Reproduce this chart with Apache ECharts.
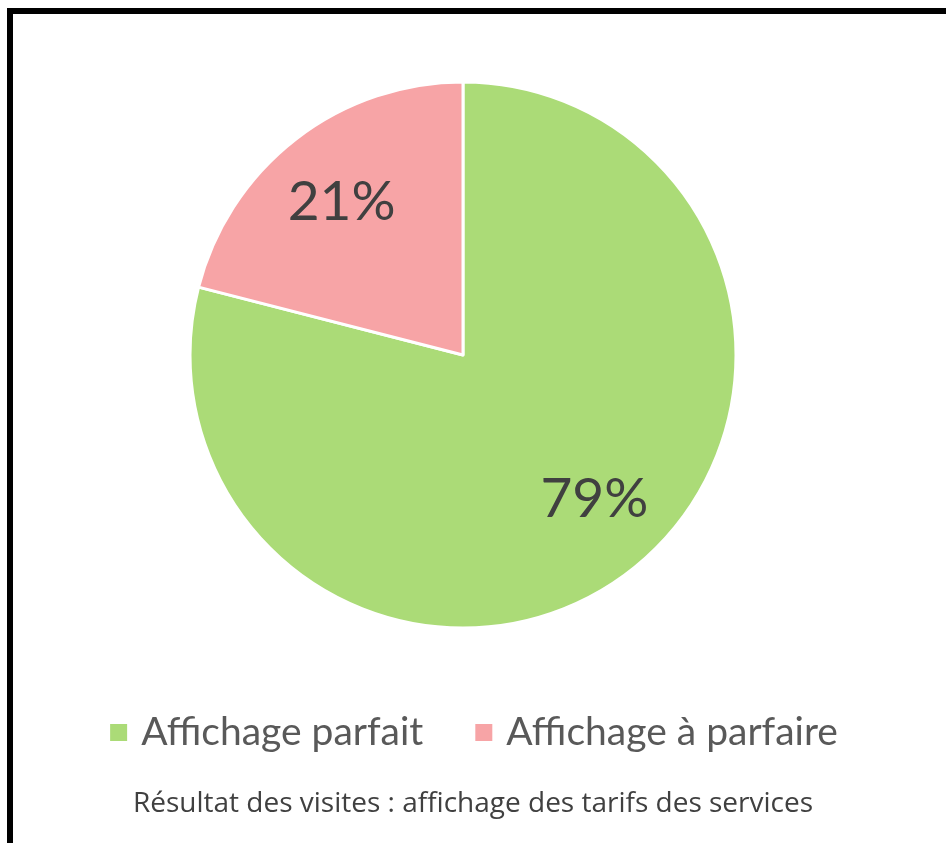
<!DOCTYPE html>
<html>
<head>
<meta charset="utf-8">
<script src="https://cdn.jsdelivr.net/npm/echarts@6/dist/echarts.min.js"></script>
<style>
html,body{margin:0;padding:0;background:#fff;}
#main{width:946px;height:843px;}
</style>
</head>
<body>
<div id="main"></div>
<script>
var categories = ['Affichage parfait', 'Affichage à parfaire'];
var values = [79, 21];
var colors = ['#abdb77', '#f7a4a6'];
var chartTitle = 'Résultat des visites : affichage des tarifs des services';

(function () {
	var chart = echarts.init(document.getElementById('main'));
	var pieData = categories.map(function (c, i) {
		return { name: c, value: values[i], itemStyle: { color: colors[i] } };
	});
	// décalage des étiquettes (placement type Excel)
	var labelOffsets = [[10, -12], [0, 4]];
	var option = {
		animation: false,
		title: {
			text: chartTitle,
			left: 'center',
			top: 785,
			textStyle: {
				fontFamily: 'Open Sans',
				fontWeight: 'normal',
				fontSize: 28,
				color: '#404040'
			}
		},
		legend: {
			data: categories,
			top: 708,
			left: 'center',
			itemWidth: 19,
			itemHeight: 19,
			itemGap: 50,
			icon: 'rect',
			textStyle: {
				fontFamily: 'Lato',
				fontSize: 39,
				color: '#595959',
				padding: [0, 0, 0, 8]
			}
		},
		// cadre noir
		graphic: [{
			type: 'rect',
			shape: { x: 10, y: 11, width: 1000, height: 1000 },
			style: { fill: 'none', stroke: '#000', lineWidth: 6 },
			silent: true
		}],
		series: [
			{
				type: 'pie',
				center: [463, 355],
				radius: [0, 273],
				startAngle: 90,
				clockwise: true,
				label: { show: false },
				labelLine: { show: false },
				itemStyle: { borderColor: '#fff', borderWidth: 3 },
				data: pieData
			},
			// étiquettes des pourcentages
			{
				type: 'pie',
				center: [463, 355],
				radius: [0, 390],
				startAngle: 90,
				clockwise: true,
				silent: true,
				itemStyle: { color: 'transparent' },
				label: {
					show: true,
					position: 'inside',
					formatter: '{c}%',
					fontFamily: 'Lato',
					fontSize: 55,
					color: '#404040'
				},
				labelLine: { show: false },
				data: values.map(function (v, i) {
					return { name: categories[i], value: v, label: { offset: labelOffsets[i] } };
				})
			}
		]
	};
	chart.setOption(option);
})();
</script>
</body>
</html>
